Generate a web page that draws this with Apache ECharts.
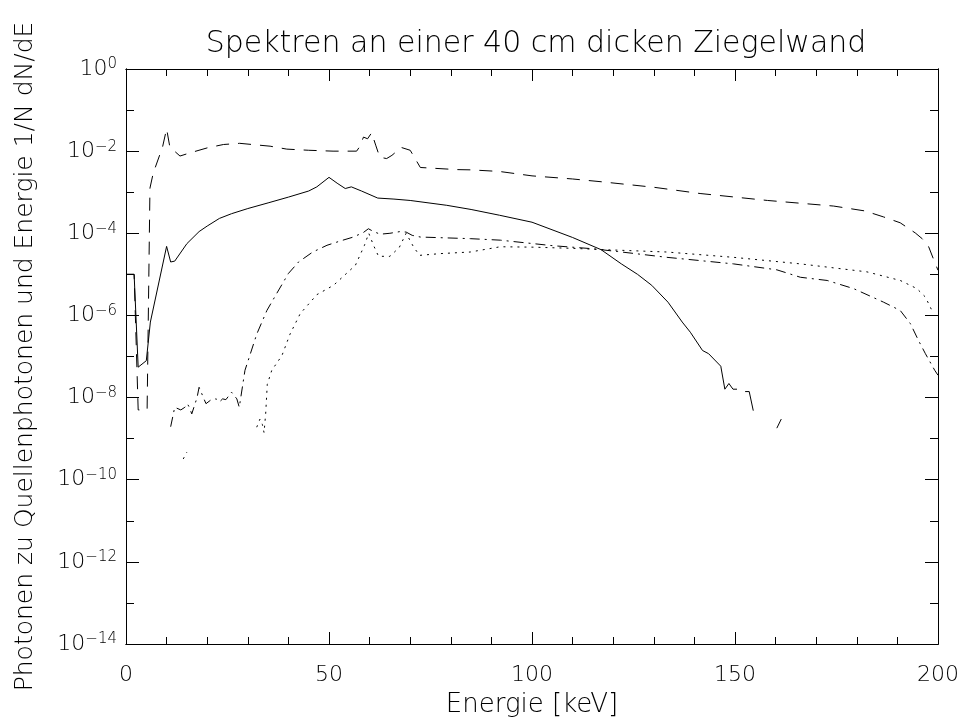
<!DOCTYPE html>
<html>
<head>
<meta charset="utf-8">
<script src="https://cdn.jsdelivr.net/npm/echarts@6/dist/echarts.min.js"></script>
<style>
  html, body { margin: 0; padding: 0; background: #fff; }
  #chart { width: 964px; height: 720px; }
</style>
</head>
<body>
<div id="chart"></div>
<script>
// Energie [keV] and 1/N dN/dE, one pair of arrays per curve (null = gap)
const solidE = [0, 2, 3, 5, 6, 10, 11, 12, 15, 18, 20, 23, 26, 30, 35, 40, 45, 47, 50, 52, 54, 55.5, 58, 62, 66, 70, 79, 85, 92, 100, 110, 117, 122, 126, 129.5, 133.5, 137, 139, 142, 143.5, 146.5, 147.5, 148.5, 149.5, 150.5, 151.5, 152.5, 153.5, 154.5, 157, 160.3, 161.4];
const solidV = [1e-5, 1e-5, 5.5e-8, 7.9e-8, 6.9e-7, 4.8e-5, 2.0e-5, 2.1e-5, 5.6e-5, 1.1e-4, 1.5e-4, 2.3e-4, 3.0e-4, 4.0e-4, 5.5e-4, 7.6e-4, 1.07e-3, 1.35e-3, 2.3e-3, 1.66e-3, 1.23e-3, 1.35e-3, 1.07e-3, 7.2e-4, 6.8e-4, 6.3e-4, 4.8e-4, 3.8e-4, 2.75e-4, 1.86e-4, 7.9e-5, 4.0e-5, 1.8e-5, 1.0e-5, 5.4e-6, 2.1e-6, 6.9e-7, 3.9e-7, 1.4e-7, 1.17e-7, 5.8e-8, 1.6e-8, 2.2e-8, 1.6e-8, 1.6e-8, null, 1.4e-8, 1.4e-8, 4.8e-9, null, 1.8e-9, 3.0e-9];

const dashE = [0, 2, 3, 4.2, 5.2, 5.9, 6.7, 9, 10, 10.8, 13.3, 15.8, 20, 24, 28, 35.5, 39.6, 45, 51, 56.8, 57.5, 58.5, 59.5, 60.5, 61.5, 62.5, 64.2, 65.5, 67.8, 70, 71.2, 72.5, 81.5, 85, 92, 100, 110, 117, 130, 141.4, 158, 174.3, 182, 186.6, 190.7, 194.4, 196.1, 197.7, 199, 200];
const dashV = [1e-5, 1e-5, 5.0e-9, 5.0e-9, 5.0e-9, 1.26e-3, 2.9e-3, 1.26e-2, 3.5e-2, 1.26e-2, 7.6e-3, 9.1e-3, 1.2e-2, 1.45e-2, 1.55e-2, 1.32e-2, 1.12e-2, 1.05e-2, 1.0e-2, 1.0e-2, 1.26e-2, 2.2e-2, 2.0e-2, 2.8e-2, 1.4e-2, 7.1e-3, 6.6e-3, 7.9e-3, 1.23e-2, 1.05e-2, 6.6e-3, 4.0e-3, 3.55e-3, 3.5e-3, 3.2e-3, 2.5e-3, 2.1e-3, 1.8e-3, 1.32e-3, 9.3e-4, 6.3e-4, 4.6e-4, 3.5e-4, 2.5e-4, 1.8e-4, 1.02e-4, 7.4e-5, 4.7e-5, 2.2e-5, 1.26e-5];

const dashDotE = [11, 12, 13.5, 14.5, 15.1, 15.6, 16.2, 17.5, 18, 19.7, 21, 22.2, 23, 23.8, 24.6, 26, 27.3, 27.9, 29.3, 32.2, 34.7, 37.1, 40, 42.5, 46, 49.5, 53, 56, 58.5, 59.7, 61, 62.6, 65, 67.5, 69, 70.5, 72.5, 84.8, 92.2, 105, 115, 121, 133.2, 149.6, 160.3, 166.1, 172.7, 179.2, 186.6, 190.7, 193.2, 195.2, 196.9, 199.2, 200];
const dashDotV = [1.95e-9, 5.8e-9, 5.0e-9, 5.8e-9, 7.1e-9, 5.8e-9, 4.0e-9, 1.0e-8, 1.78e-8, 7.1e-9, 8.9e-9, 9.3e-9, 7.8e-9, 9.3e-9, 8.9e-9, 1.35e-8, 9.3e-9, 5.8e-9, 4.6e-8, 3.5e-7, 1.32e-6, 3.4e-6, 1.05e-5, 2.0e-5, 3.5e-5, 5.1e-5, 6.6e-5, 8.1e-5, 1.05e-4, 1.29e-4, 1.1e-4, 9.5e-5, 1.0e-4, 1.1e-4, 1.07e-4, 8.9e-5, 8.1e-5, 7.4e-5, 6.8e-5, 5.0e-5, 4.2e-5, 3.6e-5, 2.6e-5, 1.8e-5, 1.29e-5, 8.5e-6, 7.1e-6, 4.5e-6, 2.1e-6, 1.32e-6, 6.3e-7, 2.45e-7, 1.17e-7, 4.6e-8, 3.5e-8];

const dotE = [14.1, 15, 15.5, 32.2, 33, 33.6, 34, 34.4, 34.8, 35.9, 38.4, 40.4, 42.9, 47, 51.1, 56.5, 58.7, 59.8, 61, 62.2, 65, 67.3, 69, 70.8, 72.3, 77.4, 84.8, 92.2, 100, 110, 117.6, 133.2, 149.6, 166.1, 182.5, 190.7, 194.8, 196.9, 198.5];
const dotV = [3.2e-10, 4.7e-10, null, 1.9e-9, 3.0e-9, 2.2e-9, 1.4e-9, 4.0e-9, 2.1e-8, 4.6e-8, 1.05e-7, 3.5e-7, 1.1e-6, 3.2e-6, 5.4e-6, 1.66e-5, 5.0e-5, 1.0e-4, 5.0e-5, 2.75e-5, 2.75e-5, 4.5e-5, 1.0e-4, 4.7e-5, 2.9e-5, 3.2e-5, 3.5e-5, 4.7e-5, 4.6e-5, 4.3e-5, 4.0e-5, 3.5e-5, 2.6e-5, 1.8e-5, 1.15e-5, 7.1e-6, 4.5e-6, 2.8e-6, 1.32e-6];

const xTicks = [0, 50, 100, 150, 200];
const yMin = 1e-14;
const yMax = 1;

const font = 'DejaVu Sans';
const pair = (e, v) => e.map((x, i) => [x, v[i]]);

const xAxisBase = (pos, interval, len, withLabels) => ({
  type: 'value',
  position: pos,
  min: xTicks[0],
  max: xTicks[xTicks.length - 1],
  interval: interval,
  axisLine: { show: true, onZero: false, lineStyle: { color: '#000', width: 1 } },
  axisTick: { show: true, inside: true, length: len, lineStyle: { color: '#000', width: 1 } },
  axisLabel: { show: withLabels, color: '#000', fontFamily: font, fontWeight: 200, fontSize: 22, margin: 20 },
  splitLine: { show: false }
});

const yAxisBase = (pos, interval, len, withLabels) => ({
  type: 'log',
  logBase: 10,
  position: pos,
  min: yMin,
  max: yMax,
  interval: interval,
  splitNumber: 14 / interval,
  axisLine: { show: true, onZero: false, lineStyle: { color: '#000', width: 1 } },
  axisTick: { show: true, inside: true, length: len, lineStyle: { color: '#000', width: 1 } },
  axisLabel: {
    show: withLabels,
    margin: 9,
    formatter: (v) => {
      const p = Math.round(Math.log10(v));
      return '{b|10}{e|' + (p < 0 ? '\u2212' + (-p) : p) + '}';
    },
    rich: {
      b: { fontFamily: font, fontWeight: 200, fontSize: 22, color: '#000', lineHeight: 24 },
      e: { fontFamily: font, fontWeight: 200, fontSize: 15, color: '#000', verticalAlign: 'top', lineHeight: 14 }
    }
  },
  splitLine: { show: false },
  minorTick: { show: false }
});

const xAxes = [
  Object.assign(xAxisBase('bottom', 50, 12, true), {
    name: 'Energie [keV]',
    nameLocation: 'middle',
    nameGap: 48,
    nameTextStyle: { color: '#000', fontFamily: font, fontWeight: 200, fontSize: 26 }
  }),
  xAxisBase('bottom', 10, 7, false),
  xAxisBase('top', 50, 12, false),
  xAxisBase('top', 10, 7, false)
];

const yAxes = [
  Object.assign(yAxisBase('left', 2, 13, true), {
    name: 'Photonen zu Quellenphotonen und Energie 1/N dN/dE',
    nameLocation: 'middle',
    nameGap: 88,
    nameTextStyle: { color: '#000', fontFamily: font, fontWeight: 200, fontSize: 25 }
  }),
  yAxisBase('left', 1, 8, false),
  yAxisBase('right', 2, 13, false),
  yAxisBase('right', 1, 8, false)
];

const lineSeries = (name, e, v, type) => ({
  name: name,
  type: 'line',
  data: pair(e, v),
  showSymbol: false,
  symbol: 'none',
  connectNulls: false,
  smooth: false,
  lineStyle: { color: '#000', width: 1, type: type },
  emphasis: { disabled: true }
});

const chart = echarts.init(document.getElementById('chart'));
chart.setOption({
  animation: false,
  backgroundColor: '#fff',
  title: {
    text: 'Spektren an einer 40 cm dicken Ziegelwand',
    left: 531,
    top: 24,
    textAlign: 'center',
    textStyle: { color: '#000', fontFamily: font, fontWeight: 200, fontSize: 30 }
  },
  grid: { left: 126, right: 26, top: 69, bottom: 76, containLabel: false, outerBoundsMode: 'none' },
  xAxis: xAxes,
  yAxis: yAxes,
  series: [
    lineSeries('dashed', dashE, dashV, [13, 9]),
    lineSeries('solid', solidE, solidV, 'solid'),
    lineSeries('dashdot', dashDotE, dashDotV, [10, 5, 2, 5]),
    lineSeries('dotted', dotE, dotV, [2, 5])
  ]
});
</script>
</body>
</html>
